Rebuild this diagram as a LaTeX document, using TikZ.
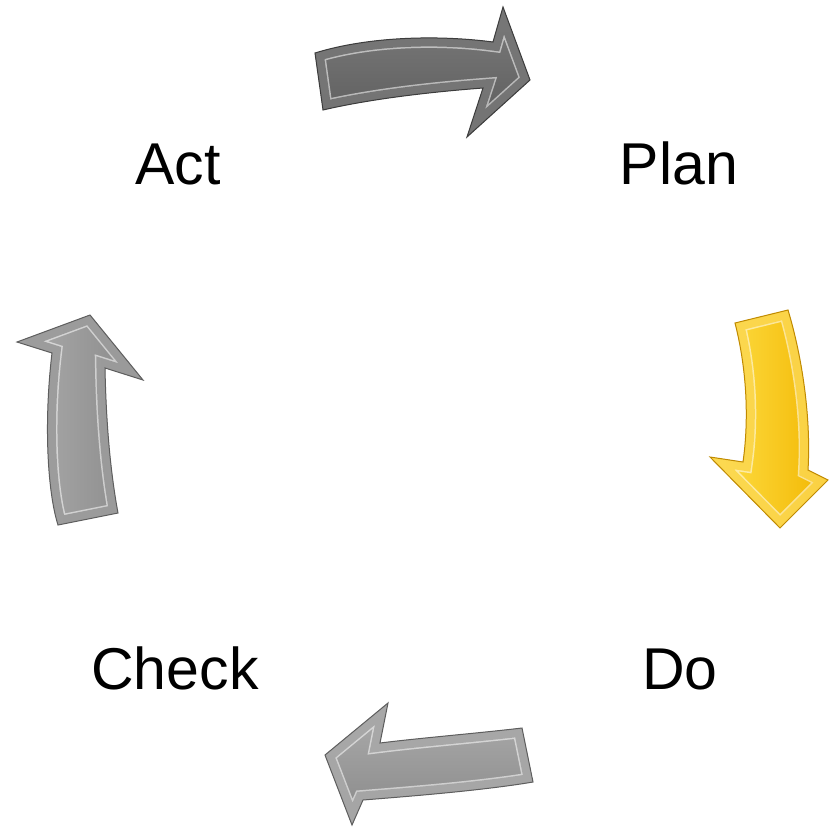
\documentclass[tikz,border=0pt]{standalone}
\usepackage{fontspec}
\setmainfont{Liberation Sans}
\usetikzlibrary{shadings}
\definecolor{gface1}{HTML}{5A5A5A}
\definecolor{gface2}{HTML}{7C7C7C}
\definecolor{gedge1}{HTML}{3C3C3C}
\definecolor{lface1}{HTML}{888888}
\definecolor{lface2}{HTML}{ADADAD}
\definecolor{ledge}{HTML}{5E5E5E}
\definecolor{yface1}{HTML}{FFE14A}
\definecolor{yface2}{HTML}{F2B600}
\definecolor{yedge}{HTML}{C08A00}
\tikzset{
  lbl/.style={font=\fontsize{59}{62}\selectfont, anchor=base, inner sep=0pt},
  rim/.style={line width=1pt, line join=miter, draw=#1},
}
\newcommand\bevarrow[4]{%
  \begin{scope}
    \clip #1;
    \shade[#2] #1;
    \draw[line width=20pt, white, opacity=0.55, line join=miter] #1;
    \draw[line width=17pt, #3, line join=miter] #1;
  \end{scope}
  \draw[rim=#4] #1;
}
\begin{document}
\begin{tikzpicture}[x=1pt,y=-1pt]
\useasboundingbox (0,0) rectangle (829,828);
\fill[white] (0,0) rectangle (829,828);

% Act -> Plan (top)
\bevarrow{(315,53) .. controls (370,36) and (440,35) .. (493,42) -- (503,7) -- (530,80) -- (467,137) -- (483,88) .. controls (430,92) and (370,99) .. (323,110) -- cycle}
  {top color=gface2, bottom color=gface1}
  {gface2!85!black, opacity=0.85}{gedge1}

% Plan -> Do (right, yellow)
\bevarrow{(735,323) -- (788,310) .. controls (803,360) and (811,420) .. (808,470) -- (828,480) -- (780,528) -- (710,457) -- (743,462) .. controls (749,420) and (747,370) .. (735,323) -- cycle}
  {left color=yface1, right color=yface2}
  {yellow!60!orange, opacity=0.55}{yedge}

% Do -> Check (bottom)
\bevarrow{(522,728) .. controls (480,733) and (420,738) .. (380,743) -- (388,703) -- (325,755) -- (352,825) -- (363,800) .. controls (400,797) and (480,791) .. (533,782) -- cycle}
  {top color=lface2, bottom color=lface1}
  {lface2!90!black, opacity=0.8}{ledge}

% Check -> Act (left)
\bevarrow{(58,525) .. controls (47,490) and (44,420) .. (52,353) -- (17,342) -- (90,315) -- (143,380) -- (105,368) .. controls (106,420) and (110,470) .. (118,513) -- cycle}
  {left color=lface2, right color=lface1}
  {lface1!95!white, opacity=0.8}{ledge}

\node[lbl] (act) at (178,184) {Act};
\node[lbl] (plan) at (679,184) {Plan};
\node[lbl] (check) at (175,689) {Check};
\node[lbl] (do) at (680,689) {Do};
\end{tikzpicture}
\end{document}
